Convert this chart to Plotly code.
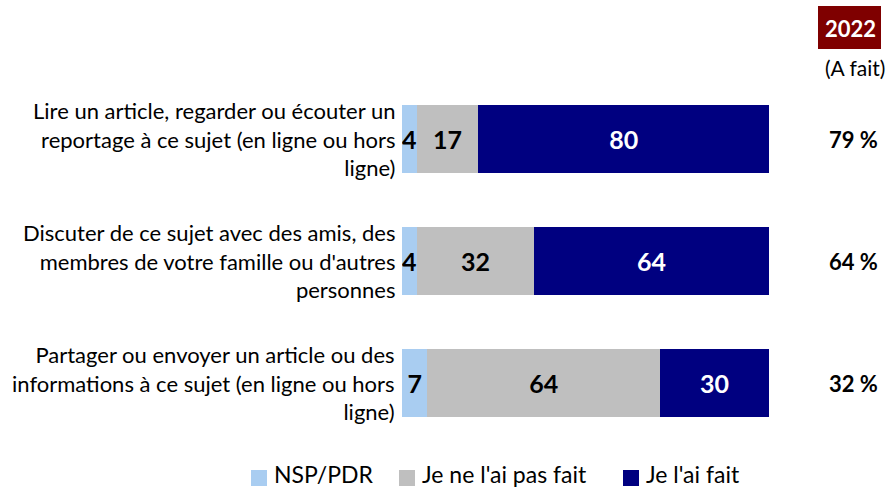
import plotly.graph_objects as go

categories = [
    "Lire un article, regarder ou écouter un<br>reportage à ce sujet (en ligne ou hors<br>ligne)",
    "Discuter de ce sujet avec des amis, des<br>membres de votre famille ou d'autres<br>personnes",
    "Partager ou envoyer un article ou des<br>informations à ce sujet (en ligne ou hors<br>ligne)",
]
series_names = ["NSP/PDR", "Je ne l'ai pas fait", "Je l'ai fait"]
nsp = [4, 4, 7]
pas_fait = [17, 32, 64]
fait = [80, 64, 30]
a_fait_2022 = ["79 %", "64 %", "32 %"]
header_year = "2022"
header_sub = "(A fait)"

colors = ["#A9CDF1", "#BFBFBF", "#000080"]
text_colors = ["black", "black", "white"]
FONT = "Lato, 'Open Sans', sans-serif"

W, H = 886, 489
ML, MR, MT, MB = 402, 117, 78, 45
PW = W - ML - MR
PH = H - MT - MB


def px_x(x):
    return (x - ML) / PW


def px_y(y):
    return (H - MB - y) / PH


fig = go.Figure()
for name, vals, col, tcol in zip(series_names, [nsp, pas_fait, fait], colors, text_colors):
    fig.add_trace(go.Bar(
        y=categories, x=vals, name=name, orientation="h",
        marker=dict(color=col, line=dict(width=0)),
        text=[f"<b>{v}</b>" for v in vals], texttemplate="%{text}",
        textposition="inside", insidetextanchor="middle",
        textfont=dict(family=FONT, size=25, color=tcol),
        constraintext="none",
        hoverinfo="skip",
        showlegend=False,
    ))

fig.update_layout(
    barmode="stack", barnorm="percent", bargap=0.443,
    width=W, height=H,
    margin=dict(l=ML, r=MR, t=MT, b=MB, autoexpand=False),
    paper_bgcolor="white", plot_bgcolor="white",
    font=dict(family=FONT, size=20, color="black"),
    uniformtext=dict(minsize=25, mode="show"),
    xaxis=dict(range=[0, 100], visible=False, fixedrange=True),
    yaxis=dict(autorange="reversed", showticklabels=False, showgrid=False,
               zeroline=False, fixedrange=True),
    showlegend=False,
)

# category labels
for cat in categories:
    fig.add_annotation(x=0, xref="paper", xanchor="right", xshift=-5,
                       y=cat, yref="y", yanchor="middle",
                       text=cat, showarrow=False, align="right",
                       font=dict(family=FONT, size=22, color="black"))

# right column values
for cat, val in zip(categories, a_fait_2022):
    fig.add_annotation(x=px_x(853), xref="paper", xanchor="center",
                       y=cat, yref="y", yanchor="middle", showarrow=False,
                       text=f"<b>{val}</b>", font=dict(family=FONT, size=22, color="black"))

# header
fig.add_shape(type="rect", xref="paper", yref="paper",
              x0=px_x(818), x1=px_x(881), y0=px_y(49), y1=px_y(6),
              fillcolor="#7F0000", line=dict(width=0), layer="below")
fig.add_annotation(x=px_x(850), xref="paper", xanchor="center",
                   y=px_y(28), yref="paper", yanchor="middle",
                   text=f"<b>{header_year}</b>", showarrow=False,
                   font=dict(family=FONT, size=22, color="white"))
fig.add_annotation(x=px_x(855), xref="paper", xanchor="center",
                   y=px_y(67), yref="paper", yanchor="middle",
                   text=header_sub, showarrow=False,
                   font=dict(family=FONT, size=21, color="black"))

# legend (manual, horizontal)
legend_sq_x = [251, 399, 623]
for name, col, sx in zip(series_names, colors, legend_sq_x):
    fig.add_shape(type="rect", xref="paper", yref="paper",
                  x0=px_x(sx), x1=px_x(sx + 16), y0=px_y(486), y1=px_y(470),
                  fillcolor=col, line=dict(width=0))
    fig.add_annotation(x=px_x(sx + 21), xref="paper", xanchor="left",
                       y=px_y(474), yref="paper", yanchor="middle",
                       text=name, showarrow=False,
                       font=dict(family=FONT, size=23, color="black"))

fig.write_html("out.html", config={"displayModeBar": False},
               post_script="document.body.style.margin='0';")
